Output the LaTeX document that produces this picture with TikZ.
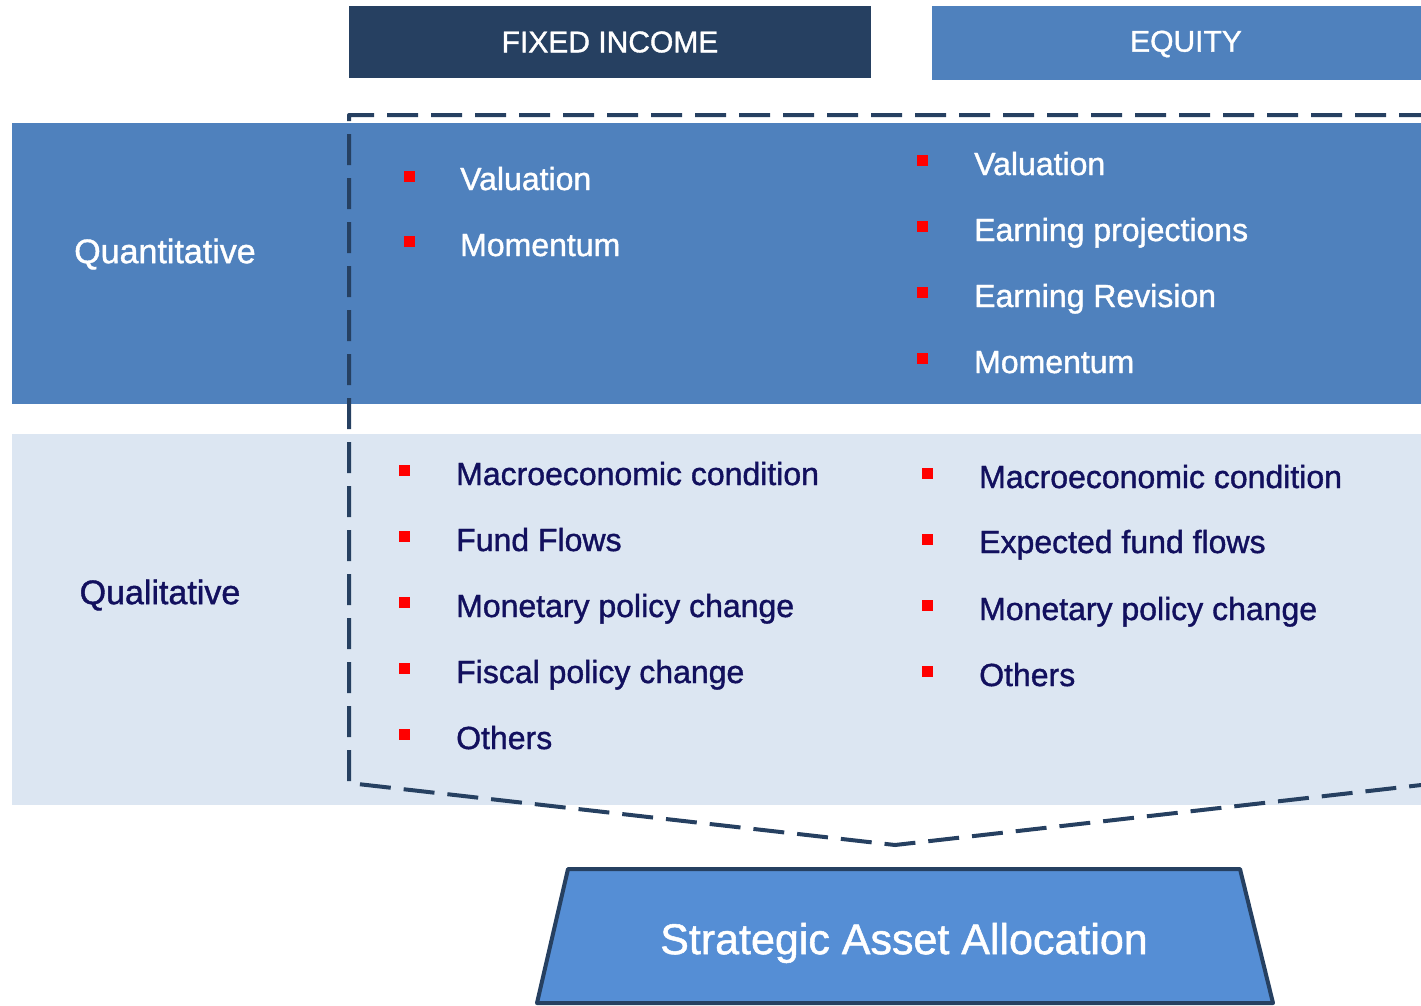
\documentclass[tikz,border=0pt]{standalone}
\usepackage{fontspec}
\setmainfont{Liberation Sans}[FakeBold=1.2]

\definecolor{navy}{RGB}{38,64,97}
\definecolor{quantblue}{RGB}{79,129,189}
\definecolor{qualblue}{RGB}{220,230,242}
\definecolor{saablue}{RGB}{85,142,213}
\definecolor{inktext}{RGB}{18,16,94}

\tikzset{
  band/.style={inner sep=0pt, outer sep=0pt, anchor=north west},
  header/.style={band, text=white, font=\fontsize{30}{36}\selectfont},
  rowlabel/.style={inner sep=0pt, font=\fontsize{34}{40}\selectfont},
  bullet/.style={fill=red, minimum size=11pt, inner sep=0pt},
  item/.style={anchor=base west, inner sep=0pt, font=\fontsize{32}{38}\selectfont},
  frame/.style={draw=navy, line width=4pt, dash pattern=on 31pt off 13pt, line join=round},
  base/.style={fill=saablue, draw=navy, line width=4pt, line join=round},
}

\begin{document}
\begin{tikzpicture}[x=1pt, y=-1pt]

    \useasboundingbox (0,0) rectangle (1421,1005);

    % Define bands
    \node[band, fill=quantblue, minimum width=1420pt, minimum height=281pt] (quant) at (12,123) {};
    \node[band, fill=qualblue, minimum width=1420pt, minimum height=371pt]  (qual)  at (12,434) {};
    \node[rowlabel, text=white]   (quant-label) at (165,254) {Quantitative};
    \node[rowlabel, text=inktext] (qual-label)  at (160,595) {Qualitative};

    % Headers
    \node[header, fill=navy, minimum width=522pt, minimum height=72pt]      (fi)  at (349,6) {FIXED INCOME};
    \node[header, fill=quantblue, minimum width=500pt, minimum height=74pt] (eq)  at (932,6) {};
    \node[text=white, inner sep=0pt, font=\fontsize{30}{36}\selectfont]     (eq-label) at (1186,44) {EQUITY};

    % Dashed frame
    \coordinate (frame-tr)  at (1430,115);
    \coordinate (frame-tl)  at (349,115);
    \coordinate (frame-bl)  at (349,783);
    \coordinate (frame-tip) at (895,845);
    \coordinate (frame-br)  at (1430,784);
    \draw[frame] (frame-tr) -- (frame-tl) -- (frame-bl) -- (frame-tip) -- (frame-br);

    % Fixed income, quantitative
    \node[bullet] (fi-q1-b) at (409,176) {};
    \node[item, text=white] (fi-q1) at (460,190) {Valuation};
    \node[bullet] (fi-q2-b) at (409,241) {};
    \node[item, text=white] (fi-q2) at (460,256) {Momentum};

    % Equity, quantitative
    \node[bullet] (eq-q1-b) at (922,160) {};
    \node[item, text=white] (eq-q1) at (974,175) {Valuation};
    \node[bullet] (eq-q2-b) at (922,226) {};
    \node[item, text=white] (eq-q2) at (974,241) {Earning projections};
    \node[bullet] (eq-q3-b) at (922,292) {};
    \node[item, text=white] (eq-q3) at (974,307) {Earning Revision};
    \node[bullet] (eq-q4-b) at (922,358) {};
    \node[item, text=white] (eq-q4) at (974,373) {Momentum};

    % Fixed income, qualitative
    \node[bullet] (fi-l1-b) at (404,470) {};
    \node[item, text=inktext] (fi-l1) at (456,485) {Macroeconomic condition};
    \node[bullet] (fi-l2-b) at (404,536) {};
    \node[item, text=inktext] (fi-l2) at (456,551) {Fund Flows};
    \node[bullet] (fi-l3-b) at (404,602) {};
    \node[item, text=inktext] (fi-l3) at (456,617) {Monetary policy change};
    \node[bullet] (fi-l4-b) at (404,668) {};
    \node[item, text=inktext] (fi-l4) at (456,683) {Fiscal policy change};
    \node[bullet] (fi-l5-b) at (404,734) {};
    \node[item, text=inktext] (fi-l5) at (456,749) {Others};

    % Equity, qualitative
    \node[bullet] (eq-l1-b) at (927,473) {};
    \node[item, text=inktext] (eq-l1) at (979,488) {Macroeconomic condition};
    \node[bullet] (eq-l2-b) at (927,539) {};
    \node[item, text=inktext] (eq-l2) at (979,553) {Expected fund flows};
    \node[bullet] (eq-l3-b) at (927,605) {};
    \node[item, text=inktext] (eq-l3) at (979,620) {Monetary policy change};
    \node[bullet] (eq-l4-b) at (927,671) {};
    \node[item, text=inktext] (eq-l4) at (979,686) {Others};

    % Result
    \coordinate (saa-tl) at (568,869);
    \coordinate (saa-tr) at (1240,869);
    \coordinate (saa-br) at (1273,1003);
    \coordinate (saa-bl) at (537,1003);
    \draw[base] (saa-tl) -- (saa-tr) -- (saa-br) -- (saa-bl) -- cycle;
    \node[text=white, inner sep=0pt, font=\fontsize{43}{50}\selectfont] (saa) at (904,943) {Strategic Asset Allocation};

  \end{tikzpicture}
\end{document}
